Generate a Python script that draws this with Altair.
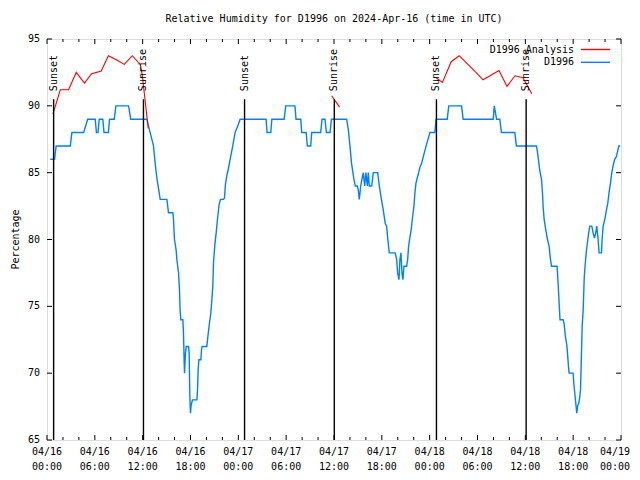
import altair as alt
import pandas as pd

# ---------------- data ----------------
title_text = "Relative Humidity for D1996 on 2024-Apr-16 (time in UTC)"
y_title = "Percentage"
series_names = ["D1996 Analysis", "D1996"]
series_colors = ["#ff0000", "#0080ff"]

# hours since 2024-04-16 00:00 UTC
obs_hours = [
    0.41, 0.95, 1.15, 2.92, 3.12, 4.6, 5.1, 6.05, 6.2, 6.4, 6.55, 7.0, 7.15, 7.7, 7.85, 8.43, 8.65, 10.23, 10.5, 12.53,
    12.73, 12.94, 13.36, 13.57, 13.78, 13.99, 14.2, 15.04, 15.24, 15.79, 15.87, 15.99, 16.2, 16.29, 16.5, 16.62,
    16.7, 16.79, 17.04, 17.12, 17.2, 17.25, 17.37, 17.46, 17.75, 17.83, 17.92, 18.0, 18.08, 18.25, 18.8, 18.88,
    18.96, 19.05, 19.3, 19.38, 19.46, 20.05, 20.17, 20.38, 20.55, 20.68, 20.8, 20.88, 21.05, 21.22, 21.38, 21.59,
    21.76, 22.13, 22.26, 22.38, 22.56, 22.72, 22.97, 23.3, 23.6, 24.0, 24.22,
    27.48, 27.6, 28.07, 28.2, 29.74, 29.95, 31.1, 31.24, 31.83, 31.95, 32.5, 32.66, 33.08, 33.2, 34.33, 34.5,
    34.87, 35.05, 35.5, 35.68, 37.59, 37.8, 38.0, 38.2, 38.5, 38.67, 38.92, 39.05, 39.17, 39.35, 39.5, 39.67,
    39.85, 40.0, 40.18, 40.3, 40.43, 40.73, 40.93, 41.48, 41.64, 41.89, 42.18, 42.43, 42.6, 42.77, 42.93, 43.68,
    43.86, 43.98, 44.15, 44.27, 44.4, 44.52, 44.65, 44.77, 45.11, 45.24, 45.36, 45.53, 45.69, 45.86, 46.03,
    46.15, 46.28, 46.44, 46.62, 46.78, 46.99, 47.2, 47.6, 48.03, 48.65, 48.8,
    50.2, 50.4, 52.0, 52.2, 55.97, 56.1, 56.25, 56.39, 56.8, 57.0, 58.68, 58.88, 61.4, 61.6, 61.8, 62.03, 62.15,
    62.23, 62.36, 62.57, 62.78, 62.98, 63.16, 63.28, 63.98, 64.07, 64.2, 64.29, 64.35, 64.74, 64.86, 65.04, 65.2,
    65.29, 65.41, 65.49, 65.99, 66.08, 66.2, 66.33, 66.45, 66.58, 66.7, 66.83, 66.92, 67.0, 67.13, 67.25, 67.34,
    67.39, 67.56, 67.67, 67.84, 67.97, 68.09, 68.34, 68.5, 68.67, 68.83, 68.96, 69.13, 69.25, 69.55, 69.63,
    69.76, 70.0, 70.17, 70.34, 70.5, 70.68, 70.84, 71.0, 71.21, 71.42, 71.73, 71.9,
]
obs_values = [
    86, 86, 87, 87, 88, 88, 89, 89, 88, 88, 89, 89, 88, 88, 89, 89, 90, 90, 89, 89,
    88.5, 88, 87, 85.7, 84.6, 83.8, 83, 83, 82, 82, 81.5, 80, 79.2, 78.5, 77.5, 76.2,
    74.7, 74, 74, 73, 71, 70, 71.5, 72, 72, 71.5, 68.2, 67, 67.6, 68, 68, 68.75,
    70.25, 71, 71, 71.75, 72, 72, 72.7, 73.75, 74.5, 75.5, 76.5, 78.2, 79.6, 80.5, 81.5, 82.6,
    83, 83, 83.1, 84.1, 84.8, 85.2, 86, 87, 88, 88.6, 89,
    89, 88, 88, 89, 89, 90, 90, 89, 89, 88, 88, 87, 87, 88, 88, 89,
    89, 88, 88, 89, 89, 88.2, 87, 85.7, 84.5, 84, 84, 83.7, 83, 84, 84.5, 85,
    84, 85, 84, 85, 84, 84, 85, 85, 84.2, 83.2, 82.2, 81.2, 81, 79.9, 79, 79,
    78.5, 77.5, 77, 78.5, 79, 77.5, 77, 78, 78, 78.5, 79.5, 80.2, 80.8, 81.7, 82.5,
    83.5, 84.2, 84.6, 85, 85.4, 85.7, 86.2, 87.1, 88, 88, 89,
    89, 90, 90, 89, 89, 90, 89.5, 89, 89, 88, 88, 87, 87, 86.2, 85.2, 84.5, 83.5,
    82.5, 81.5, 80.7, 80, 79.5, 78.5, 78, 78, 77.2, 75.7, 74.7, 74, 74, 73.7, 72.7, 72.1,
    71.5, 70.5, 70, 70, 69.25, 68.5, 67.75, 67, 67.6, 67.75, 68.25, 68.75, 70.5, 73.5, 74.7, 76.25,
    77.2, 78.5, 79.2, 80, 80.6, 81, 81, 80.5, 80.1, 80.5, 81, 80, 79, 79, 80,
    81, 81.6, 82.2, 82.7, 83.5, 84.2, 85, 85.5, 86, 86.2, 87, 87,
]

ana_hours = [0.75, 1.67, 2.7, 3.67, 4.7, 5.6, 6.8, 7.7, 8.7, 9.7, 10.7, 11.7, 11.95, 12.7,
             35.7, 36.7,
             48.8, 49.6, 50.7, 51.7, 52.8, 53.8, 54.7, 56.7, 57.7, 58.7, 59.7, 60.8]
ana_values = [89.4, 91.2, 91.2, 92.5, 91.7, 92.4, 92.6, 93.75, 93.45, 93.1, 93.75, 93.1, 92.3, 88.3,
              90.75, 89.9,
              92.1, 91.75, 93.3, 93.75, 93.1, 92.5, 91.95, 92.65, 91.45, 92.25, 92.1, 90.9]
ana_segment = [1] * 14 + [2] * 2 + [3] * 12

event_hours = [0.83, 12.1, 24.78, 36.04, 48.85, 60.1]
event_names = ["Sunset", "Sunrise", "Sunset", "Sunrise", "Sunset", "Sunrise"]

x_major = [0, 6, 12, 18, 24, 30, 36, 42, 48, 54, 60, 66, 72]
x_minor = [2, 4, 8, 10, 14, 16, 20, 22, 26, 28, 32, 34, 38, 40, 44, 46, 50, 52, 56, 58, 62, 64, 68, 70]
x_day_labels = ["04/16", "04/16", "04/16", "04/16", "04/17", "04/17", "04/17", "04/17",
                "04/18", "04/18", "04/18", "04/18", "04/19"]
x_time_labels = ["00:00", "06:00", "12:00", "18:00", "00:00", "06:00", "12:00", "18:00",
                 "00:00", "06:00", "12:00", "18:00", "00:00"]
y_ticks = [65, 70, 75, 80, 85, 90, 95]
y_tick_labels = ["65", "70", "75", "80", "85", "90", "95"]

# ---------------- chart ----------------
FONT = "DejaVu Sans Mono"
W, H = 574, 401
TXT = dict(font=FONT, fontSize=10, color="black")

df_obs = pd.DataFrame({"h": obs_hours, "v": obs_values})
df_ana = pd.DataFrame({"h": ana_hours, "v": ana_values, "seg": ana_segment})
df_ev = pd.DataFrame({"h": event_hours, "name": event_names})
df_xmaj = pd.DataFrame({"h": x_major})
df_xmin = pd.DataFrame({"h": x_minor})
df_xlab = pd.DataFrame({"h": x_major, "day": x_day_labels, "time": x_time_labels})
df_y = pd.DataFrame({"v": y_ticks, "label": y_tick_labels})

xs = alt.Scale(domain=[0, 72], nice=False, zero=False)
ys = alt.Scale(domain=[65, 95], nice=False, zero=False)
X = alt.X("h:Q", scale=xs, axis=None)
Y = alt.Y("v:Q", scale=ys, axis=None)

obs_line = alt.Chart(df_obs).mark_line(color=series_colors[1], strokeWidth=1.4).encode(x=X, y=Y)

ana_line = alt.Chart(df_ana).mark_line(color=series_colors[0], strokeWidth=1.1).encode(
    x=X, y=Y, detail="seg:N")

ev_rule = alt.Chart(df_ev).mark_rule(color="black", strokeWidth=1.4).encode(
    x=X, y=alt.Y("lo:Q", scale=ys, axis=None), y2="hi:Q",
).transform_calculate(lo="65", hi="90.5")

ev_text = alt.Chart(df_ev).mark_text(angle=270, align="left", baseline="middle", **TXT).encode(
    x=X, y=alt.Y("at:Q", scale=ys, axis=None), text="name:N",
).transform_calculate(at="91.1")

# x tick labels (two lines), last one kept inside the canvas
xl_mid = df_xlab.iloc[:-1]
xl_end = df_xlab.iloc[-1:]
xlab_layers = []
for dfx, al, dxv in ((xl_mid, "center", 0), (xl_end, "right", 9)):
    xlab_layers.append(alt.Chart(dfx).mark_text(align=al, baseline="middle", dx=dxv, **TXT).encode(
        x=X, y=alt.value(H + 12), text="day:N"))
    xlab_layers.append(alt.Chart(dfx).mark_text(align=al, baseline="middle", dx=dxv, **TXT).encode(
        x=X, y=alt.value(H + 27), text="time:N"))

# y tick labels and y title
ylab = alt.Chart(df_y).mark_text(align="right", baseline="middle", **TXT).encode(
    y=Y, x=alt.value(-7), text="label:N")
ytitle = alt.Chart(pd.DataFrame({"t": [y_title]})).mark_text(
    angle=270, align="center", baseline="middle", **TXT).encode(
    x=alt.value(-31), y=alt.value(H / 2), text="t:N")

# inward ticks on all four sides
tick_layers = []
for df_t, ln in ((df_xmaj, 5), (df_xmin, 3)):
    tick_layers.append(alt.Chart(df_t).mark_rule(color="black", strokeWidth=1).encode(
        x=X, y=alt.value(H), y2=alt.value(H - ln)))
    tick_layers.append(alt.Chart(df_t).mark_rule(color="black", strokeWidth=1).encode(
        x=X, y=alt.value(0), y2=alt.value(ln)))
tick_layers.append(alt.Chart(df_y).mark_rule(color="black", strokeWidth=1).encode(
    y=Y, x=alt.value(0), x2=alt.value(5)))
tick_layers.append(alt.Chart(df_y).mark_rule(color="black", strokeWidth=1).encode(
    y=Y, x=alt.value(W - 5), x2=alt.value(W)))

# gnuplot-style key (text, then line sample)
legend_layers = []
row_y = [10.5, 23.3]
for i, name in enumerate(series_names):
    df_l = pd.DataFrame({"name": [name]})
    legend_layers.append(alt.Chart(df_l).mark_text(align="right", baseline="middle", **TXT).encode(
        x=alt.value(527), y=alt.value(row_y[i]), text="name:N"))
    legend_layers.append(alt.Chart(df_l).mark_rule(color=series_colors[i], strokeWidth=1.4).encode(
        x=alt.value(534), x2=alt.value(563), y=alt.value(row_y[i])))

chart = alt.layer(
    obs_line, ana_line, ev_rule, ev_text, *xlab_layers, ylab, ytitle, *tick_layers, *legend_layers
).properties(
    width=W,
    height=H,
    title=alt.TitleParams(title_text, font=FONT, fontSize=10, fontWeight="normal",
                          color="black", anchor="middle", offset=10),
    autosize=alt.AutoSizeParams(type="none"),
    padding={"left": 39, "top": 31, "right": 11, "bottom": 32},
).configure_view(
    stroke="black", strokeWidth=1
).configure(background="white")

chart.save("out.html", embed_options={"renderer": "svg", "actions": False})
